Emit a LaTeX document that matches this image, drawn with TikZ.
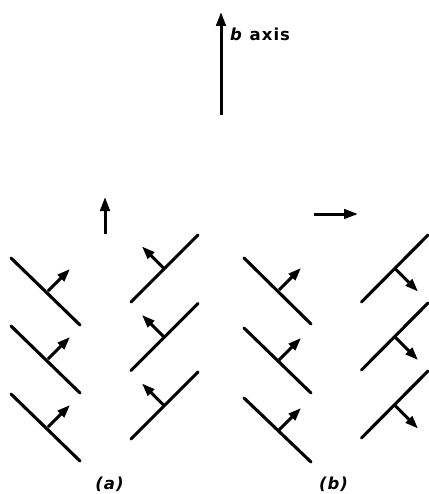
\documentclass[tikz,border=0pt]{standalone}
\usepackage{fontspec}
\setmainfont{DejaVu Sans}
\usetikzlibrary{arrows.meta}
\tikzset{
  wall/.style={line width=3.1pt, line cap=round},
  stub/.style={line width=2.9pt, -{Triangle[length=13pt,width=9pt]}},
  axisarrow/.style={line width=3pt, -{Triangle[length=14pt,width=9.5pt]}},
  lbl/.style={font=\fontsize{16.5}{18}\bfseries\selectfont\addfontfeature{LetterSpace=6}, inner sep=0pt}
}
\begin{document}
\begin{tikzpicture}[x=1pt,y=-1pt]
\useasboundingbox (0,0) rectangle (428,494);
% b axis
\coordinate (ba0) at (221,115);
\coordinate (ba1) at (221,12);
\draw[axisarrow] (ba0) -- (ba1);
\node[lbl, anchor=base west] (blab) at (230,41) {\textit{b} axis};
% small direction arrows
\coordinate (aa0) at (105,234);
\coordinate (aa1) at (105,197);
\draw[axisarrow] (aa0) -- (aa1);
\coordinate (bb0) at (314,214);
\coordinate (bb1) at (358,214);
\draw[axisarrow] (bb0) -- (bb1);
% panel (a), left column
\foreach \k in {0,1,2}{
  \draw[wall] (11,258+68*\k) -- (80,325+68*\k);
  \draw[stub] (48,291+68*\k) -- (70,269+68*\k);
}
% panel (a), right column
\foreach \k in {0,1,2}{
  \draw[wall] (131,302+68.5*\k) -- (198,235+68.5*\k);
  \draw[stub] (164,268.5+68.5*\k) -- (142,246.5+68.5*\k);
}
% panel (b), left column
\foreach \k in {0,1,2}{
  \draw[wall] (244,258+70*\k) -- (311,324+69*\k);
  \draw[stub] (279,290+70*\k) -- (301,268+70*\k);
}
% panel (b), right column
\foreach \k in {0,1,2}{
  \draw[wall] (361.5,302+68*\k) -- (428,235+68*\k);
  \draw[stub] (395,268.5+68.5*\k) -- (418,291.5+68.5*\k);
}
\node[lbl, anchor=base] (la) at (110,489) {\textit{(a)}};
\node[lbl, anchor=base] (lb) at (334,489) {\textit{(b)}};
\end{tikzpicture}
\end{document}
